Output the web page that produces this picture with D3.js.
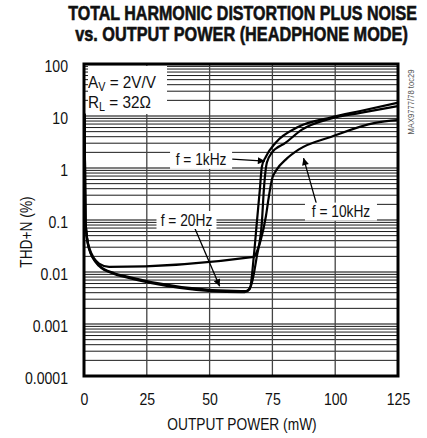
<!DOCTYPE html>
<html>
<head>
<meta charset="utf-8">
<script src="https://cdn.jsdelivr.net/npm/d3@7"></script>
<style>
  html, body { margin: 0; padding: 0; background: #fff; }
  svg { display: block; }
  text { font-family: "Liberation Sans", Arial, sans-serif; fill: #111; }
</style>
</head>
<body>
<svg id="chart" width="427" height="438"></svg>
<script>
// ---------- data ----------
const titleLines = ["TOTAL HARMONIC DISTORTION PLUS NOISE", "vs. OUTPUT POWER (HEADPHONE MODE)"];
const xLabel = "OUTPUT POWER (mW)";
const yLabel = "THD+N (%)";
const xTicks = [0, 25, 50, 75, 100, 125];
const yTicks = [0.0001, 0.001, 0.01, 0.1, 1, 10, 100];
const yTickLabels = ["0.0001", "0.001", "0.01", "0.1", "1", "10", "100"];

const power20Hz = [0.2, 0.4, 0.6, 2, 6, 12, 15, 62.5, 64, 66, 67.6, 68.8, 70.0, 70.8, 72.4, 76.3, 85.4, 98.5, 110, 125];
const thd20Hz   = [11, 1.0, 0.09, 0.028, 0.013, 0.0092, 0.0083, 0.0041, 0.0041, 0.0047, 0.020, 0.089, 0.385, 1.06, 1.65, 3.06, 6.2, 9.4, 12.5, 18];

const power1kHz = [0.2, 0.4, 0.6, 2, 6, 12, 15, 62.5, 64.5, 66.5, 68.8, 70.8, 71.6, 72.8, 74.8, 80.3, 86.6, 98.5, 110, 125];
const thd1kHz   = [11, 1.0, 0.09, 0.028, 0.0135, 0.0095, 0.0086, 0.0043, 0.0043, 0.0055, 0.020, 0.089, 0.385, 1.27, 1.97, 3.06, 5.4, 9.0, 11.5, 15.5];

const power10kHz = [0.2, 0.4, 0.6, 2, 6, 10, 67.6, 69, 70.4, 72.4, 73.6, 74.8, 76.7, 80.3, 85.4, 98.5, 115.9, 125];
const thd10kHz   = [11, 1.0, 0.09, 0.03, 0.0145, 0.0125, 0.0195, 0.026, 0.042, 0.117, 0.283, 0.60, 0.93, 1.45, 2.25, 4.0, 7.4, 8.3];

// annotations (data units)
const annotations = [
  { text: "f = 1kHz",  lx: 46.6, ly: 1.43,  ax0: 59.0, ay0: 1.48, ax1: 72.0, ay1: 1.36, boxW: 62 },
  { text: "f = 10kHz", lx: 102.3, ly: 0.145, ax0: 92.6, ay0: 0.20, ax1: 87.4, ay1: 1.55, boxW: 72 },
  { text: "f = 20Hz",  lx: 40.8, ly: 0.10,  ax0: 44.2, ay0: 0.068, ax1: 54.0, ay1: 0.0053, boxW: 60 }
];

// ---------- layout ----------
const svg = d3.select("#chart");
const X0 = 84, X1 = 398, Y0 = 64, Y1 = 376;
const x = d3.scaleLinear().domain([0, 125]).range([X0, X1]);
const y = d3.scaleLog().domain([0.0001, 100]).range([Y1, Y0]);

// place a text at (px,py) and squeeze it horizontally by `factor` (or to `width`)
function condensed(parent, px, py, str, opts) {
  const t = parent.append("text").attr("x", 0).attr("y", 0)
    .attr("text-anchor", opts.anchor || "start")
    .attr("font-size", opts.size || 16)
    .text(str);
  if (opts.weight) t.attr("font-weight", opts.weight);
  if (opts.fill) t.style("fill", opts.fill);
  if (opts.stroke) t.attr("stroke", opts.stroke).attr("stroke-width", opts.strokeWidth || 0.5);
  const w = t.node().getComputedTextLength();
  const f = opts.width ? opts.width / w : (opts.factor || 1);
  const rot = opts.rotate ? ` rotate(${opts.rotate})` : "";
  t.attr("transform", `translate(${px},${py})${rot} scale(${f.toFixed(4)},1)`);
  return t;
}

// title
condensed(svg, 242.5, 19.5, titleLines[0], { anchor: "middle", size: 20, weight: "bold", width: 349, stroke: "#111", strokeWidth: 0.6 });
condensed(svg, 241.5, 40.5, titleLines[1], { anchor: "middle", size: 20, weight: "bold", width: 333, stroke: "#111", strokeWidth: 0.6 });

// grid
const grid = svg.append("g");
const minor = [];
for (let e = -4; e < 2; e++) for (let m = 2; m <= 9; m++) minor.push(m * Math.pow(10, e));
grid.selectAll("line.hmin").data(minor).enter().append("line")
  .attr("x1", X0).attr("x2", X1).attr("y1", d => y(d)).attr("y2", d => y(d))
  .attr("stroke", "#1a1a1a").attr("stroke-width", 1);
grid.selectAll("line.hmaj").data(yTicks).enter().append("line")
  .attr("x1", X0).attr("x2", X1).attr("y1", d => y(d)).attr("y2", d => y(d))
  .attr("stroke", "#000").attr("stroke-width", 1.2);
grid.selectAll("line.v").data(xTicks.slice(1, -1)).enter().append("line")
  .attr("x1", d => x(d)).attr("x2", d => x(d)).attr("y1", Y0).attr("y2", Y1)
  .attr("stroke", "#444").attr("stroke-width", 1.3);

// conditions box
svg.append("rect").attr("x", 88).attr("y", 66).attr("width", 79).attr("height", 48).attr("fill", "#fff");
const cond = svg.append("g").attr("transform", "translate(88,0) scale(0.9,1)");
const t1 = cond.append("text").attr("x", 0).attr("y", 88).attr("font-size", 17);
t1.append("tspan").text("A");
t1.append("tspan").attr("font-size", 12).attr("dy", 3).text("V");
t1.append("tspan").attr("dy", -3).text(" = 2V/V");
const t2 = cond.append("text").attr("x", 0).attr("y", 108).attr("font-size", 17);
t2.append("tspan").text("R");
t2.append("tspan").attr("font-size", 12).attr("dy", 3).text("L");
t2.append("tspan").attr("dy", -3).text(" = 32Ω");

// curves
const line = d3.line().x(d => x(d[0])).y(d => y(d[1])).curve(d3.curveMonotoneX);
const series = [
  d3.zip(power20Hz, thd20Hz),
  d3.zip(power1kHz, thd1kHz),
  d3.zip(power10kHz, thd10kHz)
];
svg.append("g").selectAll("path").data(series).enter().append("path")
  .attr("d", line).attr("fill", "none").attr("stroke", "#000")
  .attr("stroke-width", 2.2).attr("stroke-linejoin", "round");

// arrow marker
svg.append("defs").append("marker").attr("id", "arr")
  .attr("viewBox", "0 0 10 10").attr("refX", 10).attr("refY", 5)
  .attr("markerWidth", 11).attr("markerHeight", 7).attr("markerUnits", "userSpaceOnUse")
  .attr("orient", "auto")
  .append("path").attr("d", "M0,0 L10,5 L0,10 Z").attr("fill", "#000");

// annotations
const ann = svg.append("g");
annotations.forEach(a => {
  ann.append("line")
    .attr("x1", x(a.ax0)).attr("y1", y(a.ay0)).attr("x2", x(a.ax1)).attr("y2", y(a.ay1))
    .attr("stroke", "#000").attr("stroke-width", 1.3).attr("marker-end", "url(#arr)");
  ann.append("rect")
    .attr("x", x(a.lx) - a.boxW / 2).attr("y", y(a.ly) - 9).attr("width", a.boxW).attr("height", 18)
    .attr("fill", "#fff");
  condensed(ann, x(a.lx), y(a.ly) + 5.5, a.text, { anchor: "middle", size: 16, factor: 0.86 });
});

// frame
svg.append("rect").attr("x", X0).attr("y", Y0).attr("width", X1 - X0).attr("height", Y1 - Y0)
  .attr("fill", "none").attr("stroke", "#000").attr("stroke-width", 3);

// axes labels (via d3 axes, domain/ticks hidden)
const xAxis = svg.append("g").attr("transform", `translate(0,${Y1})`)
  .call(d3.axisBottom(x).tickValues(xTicks).tickSize(0).tickPadding(0).tickFormat(d3.format("d")));
xAxis.select(".domain").remove();
xAxis.selectAll("text").attr("y", 0).attr("x", 0).attr("dy", null).attr("font-size", 16)
  .attr("font-family", "Liberation Sans, Arial, sans-serif").attr("fill", "#111")
  .attr("transform", "translate(0,29) scale(0.88,1)");

const yAxis = svg.append("g").attr("transform", `translate(${X0},0)`)
  .call(d3.axisLeft(y).tickValues(yTicks).tickSize(0).tickPadding(0)
    .tickFormat((d, i) => yTickLabels[i]));
yAxis.select(".domain").remove();
yAxis.selectAll("text").attr("x", 0).attr("dy", null).attr("y", 0).attr("font-size", 16)
  .attr("font-family", "Liberation Sans, Arial, sans-serif").attr("fill", "#111")
  .attr("transform", "translate(-16,7.5) scale(0.88,1)");

condensed(svg, 242, 430, xLabel, { anchor: "middle", size: 16, factor: 0.86 });
condensed(svg, 32, 232, yLabel, { anchor: "middle", size: 16, factor: 0.86, rotate: -90 });
condensed(svg, 414, 102, "MAX9777/78 toc29", { anchor: "middle", size: 9, factor: 0.85, rotate: -90, fill: "#555" });
</script>
</body>
</html>
